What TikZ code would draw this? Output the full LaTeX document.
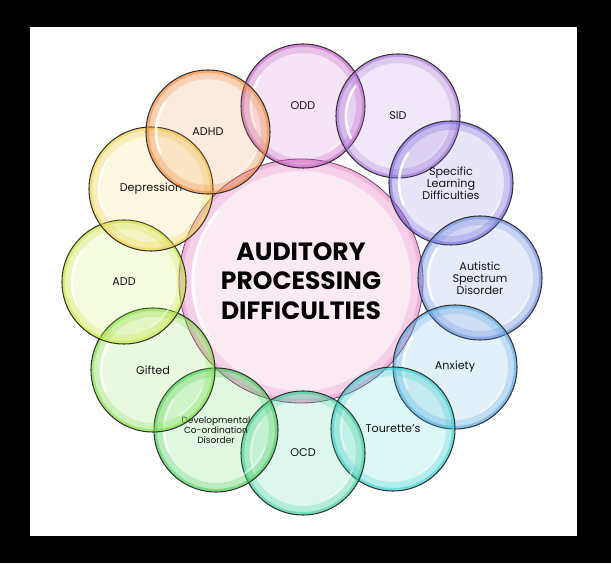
\documentclass[tikz,border=0pt]{standalone}
\usepackage{fontspec}
\setmainfont{Poppins}
\definecolor{cADHD}{HTML}{F2883A}
\definecolor{cODD}{HTML}{C860C8}
\definecolor{cSID}{HTML}{A874D8}
\definecolor{cSLD}{HTML}{7C68E0}
\definecolor{cASD}{HTML}{6C8CE0}
\definecolor{cANX}{HTML}{58A8E4}
\definecolor{cTOU}{HTML}{38D0D0}
\definecolor{cOCD}{HTML}{3CD09C}
\definecolor{cDCD}{HTML}{48D058}
\definecolor{cGIF}{HTML}{80E048}
\definecolor{cADD}{HTML}{C8E83C}
\definecolor{cDEP}{HTML}{F2D24C}
\definecolor{cCEN}{HTML}{EEA0D4}
\definecolor{cCENin}{HTML}{FAEAF4}
\tikzset{
  lbl/.style={font=\fontsize{11.2}{12.2}\selectfont, text=black!92, align=center, inner sep=0pt},
  small lbl/.style={font=\fontsize{9}{10}\selectfont, text=black!92, align=center, inner sep=0pt},
  title/.style={font=\fontsize{25}{29.5}\selectfont\bfseries, text=black, align=center, inner sep=0pt},
  rimout/.style={draw=black!80, line width=1.05pt},
  gloss/.style={draw=white, draw opacity=0.85, line width=2.6pt, line cap=round}
}
\newcommand\mybubble[6]{% name, x, y, color, style, text
  \fill[#4, fill opacity=0.17] (#2,#3) circle (62);
  \draw[#4, draw opacity=0.25, line width=9pt] (#2,#3) circle (57.5);
  \draw[#4, draw opacity=0.55, line width=3pt] (#2,#3) circle (60.5);
  \draw[gloss] (#2,#3) ++(145:52) arc (145:205:52);
  \draw[gloss, draw opacity=0.5, line width=1.8pt] (#2,#3) ++(-20:52) arc (-20:-60:52);
  \draw[rimout] (#2,#3) circle (62);
  \node[#5] (#1) at (#2,#3) {#6};
}
\begin{document}
\begin{tikzpicture}[x=1pt,y=1pt]
\fill[black] (0,0) rectangle (611,563);
\fill[white] (30,27) rectangle (577,536);
% centre circle
\fill[cCENin] (301,282) circle (122);
\draw[cCEN, draw opacity=0.35, line width=12pt] (301,282) circle (116);
\draw[cCEN, draw opacity=0.6, line width=4pt] (301,282) circle (120);
\draw[gloss, line width=3pt] (301,282) ++(140:108) arc (140:215:108);
\draw[draw=black!55!cCEN, line width=0.8pt] (301,282) circle (122);
\node[title] (apd) at (301,282) {AUDITORY\\PROCESSING\\DIFFICULTIES};
% outer bubbles
\mybubble{odd}{303}{457}{cODD}{lbl}{ODD}
\mybubble{sid}{398}{447}{cSID}{lbl}{SID}
\mybubble{sld}{451}{380}{cSLD}{lbl}{Specific\\Learning\\Difficulties}
\mybubble{asd}{480}{285}{cASD}{lbl}{Autistic\\Spectrum\\Disorder}
\mybubble{anx}{455}{196}{cANX}{lbl}{Anxiety}
\mybubble{tou}{393}{134}{cTOU}{lbl}{Tourette's}
\mybubble{ocd}{303}{110}{cOCD}{lbl}{OCD}
\mybubble{dcd}{216}{133}{cDCD}{small lbl}{Developmental\\Co-ordination\\Disorder}
\mybubble{gif}{153}{193}{cGIF}{lbl}{Gifted}
\mybubble{add}{124}{281}{cADD}{lbl}{ADD}
\mybubble{dep}{151}{374}{cDEP}{lbl}{Depression}
\mybubble{adhd}{208}{431}{cADHD}{lbl}{ADHD}
\end{tikzpicture}
\end{document}
